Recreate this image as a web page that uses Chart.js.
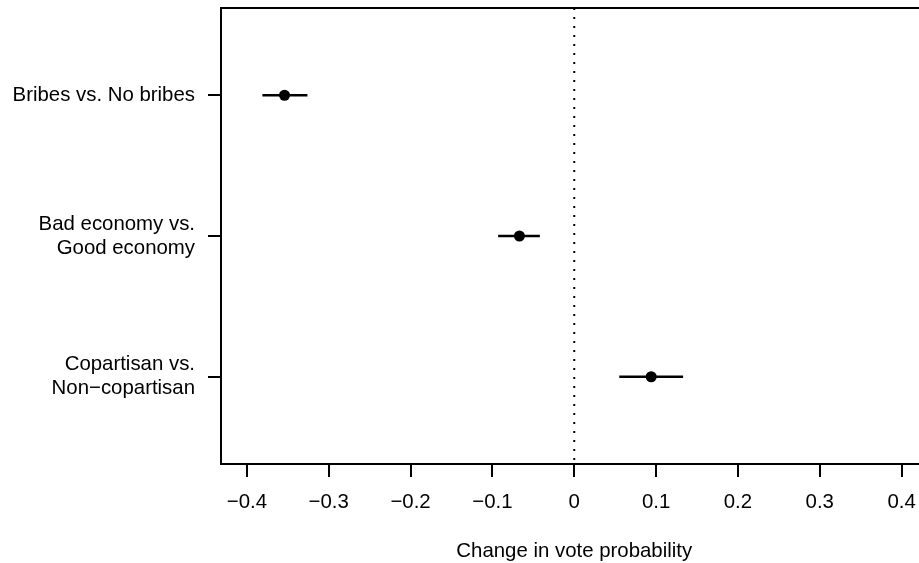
<!DOCTYPE html>
<html>
<head>
<meta charset="utf-8">
<script src="https://cdn.jsdelivr.net/npm/chart.js@4"></script>
<style>
  html, body { margin: 0; padding: 0; background: #fff; overflow: hidden; }
  #wrap { width: 933px; height: 563px; position: relative; }
</style>
</head>
<body>
<div id="wrap"><canvas id="grafica"></canvas></div>
<script>
// datos
const categorias = [
    ['Bribes vs. No bribes'],
    ['Bad economy vs.', 'Good economy'],
    ['Copartisan vs.', 'Non\u2212copartisan']
]
const estimados = [-0.354, -0.067, 0.094]
const limiteInferior = [-0.381, -0.093, 0.055]
const limiteSuperior = [-0.326, -0.042, 0.133]
const ticksX = [-0.4, -0.3, -0.2, -0.1, 0, 0.1, 0.2, 0.3, 0.4]
const tituloX = 'Change in vote probability'

const fuente = { family: '"Liberation Sans", Arial, sans-serif', size: 20.4, lineHeight: 1.18 }
const yMin = 0.38
const yMax = 3.62

function formatoTick(v) {
    if (v === 0) return '0'
    const txt = Math.abs(v).toFixed(1)
    return v < 0 ? '\u2212' + txt : txt
}

function sinPadding(scale) {
    scale.paddingTop = 0
    scale.paddingBottom = 0
    scale.paddingLeft = 0
    scale.paddingRight = 0
}

// barras de intervalo, una por categoria
const datasetsIntervalos = categorias.map((c, i) => ({
    type: 'line',
    data: [{ x: limiteInferior[i], y: i + 1 }, { x: limiteSuperior[i], y: i + 1 }],
    borderColor: '#000',
    borderWidth: 2.3,
    pointRadius: 0
}))

const datasetCero = {
    type: 'line',
    data: [{ x: 0, y: yMin }, { x: 0, y: yMax }],
    borderColor: '#000',
    borderWidth: 2,
    borderDash: [2, 7],
    pointRadius: 0
}

const datasetPuntos = {
    type: 'scatter',
    data: estimados.map((v, i) => ({ x: v, y: i + 1 })),
    backgroundColor: '#000',
    borderColor: '#000',
    pointRadius: 5.5,
    borderWidth: 0
}

const config = {
    type: 'scatter',
    data: { datasets: [datasetCero, ...datasetsIntervalos, datasetPuntos] },
    options: {
        responsive: true,
        maintainAspectRatio: false,
        animation: false,
        layout: { padding: { top: 8, right: 0, left: 0, bottom: 0 } },
        plugins: { legend: { display: false }, tooltip: { enabled: false } },
        scales: {
            x: {
                type: 'linear',
                min: -0.4316,
                max: 0.4316,
                afterBuildTicks: (scale) => { scale.ticks = ticksX.map(v => ({ value: v })) },
                afterFit: (scale) => { scale.height = 99; sinPadding(scale) },
                ticks: {
                    color: '#000',
                    font: fuente,
                    padding: 13,
                    maxRotation: 0,
                    autoSkip: false,
                    callback: (v) => formatoTick(v)
                },
                grid: { drawOnChartArea: false, color: '#000', lineWidth: 2, tickLength: 13 },
                border: { display: true, color: '#000', width: 2 },
                title: { display: true, text: tituloX, color: '#000', font: fuente, padding: { top: 0, bottom: 0 } }
            },
            y: {
                type: 'linear',
                reverse: true,
                min: yMin,
                max: yMax,
                afterBuildTicks: (scale) => { scale.ticks = [1, 2, 3].map(v => ({ value: v })) },
                afterFit: (scale) => { scale.width = 221; sinPadding(scale) },
                ticks: {
                    color: '#000',
                    font: fuente,
                    padding: 13,
                    autoSkip: false,
                    callback: (v) => categorias[v - 1]
                },
                grid: { drawOnChartArea: false, color: '#000', lineWidth: 2, tickLength: 13 },
                border: { display: true, color: '#000', width: 2 }
            }
        }
    },
    plugins: [{
        id: 'marcoSuperior',
        afterDraw(chart) {
            const { ctx, chartArea } = chart
            ctx.save()
            ctx.strokeStyle = '#000'
            ctx.lineWidth = 2
            ctx.beginPath()
            ctx.moveTo(chartArea.left - 1, chartArea.top)
            ctx.lineTo(chartArea.right, chartArea.top)
            ctx.stroke()
            ctx.restore()
        }
    }]
}

new Chart(document.getElementById('grafica'), config)
</script>
</body>
</html>
